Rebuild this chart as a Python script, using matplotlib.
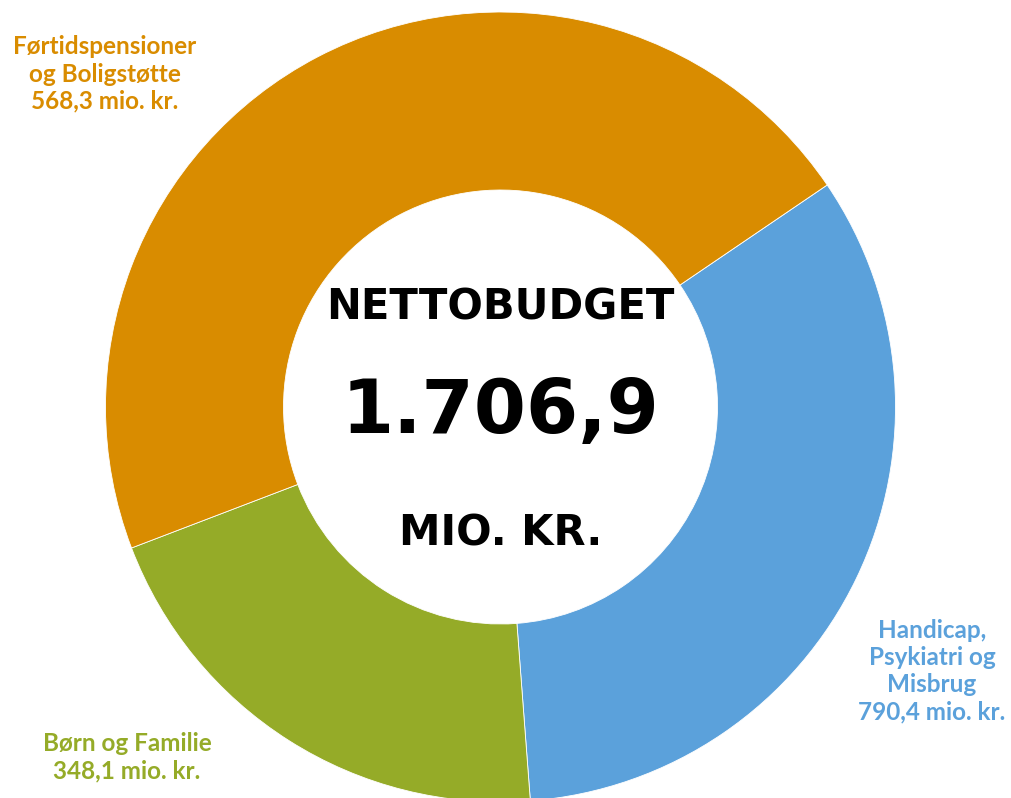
import matplotlib
matplotlib.use("Agg")
import matplotlib.pyplot as plt

# wedge sizes as drawn (clockwise from the upper right)
segments = ["Handicap", "Børn og Familie", "Førtidspensioner"]
values = [568.3, 348.1, 790.4]
colors = ["#5BA1DB", "#95AB28", "#D98C00"]

# label texts as printed on the chart
label_texts = [
    "Handicap,\nPsykiatri og\nMisbrug\n790,4 mio. kr.",
    "Børn og Familie\n348,1 mio. kr.",
    "Førtidspensioner\nog Boligstøtte\n568,3 mio. kr.",
]
label_pos = [(932, 671), (127, 757), (105, 74)]

total_text = "1.706,9"

W, H = 1011, 798
fig = plt.figure(figsize=(W / 100, H / 100), dpi=100)
ax = fig.add_axes([0, 0, 1, 1])

cx, cy = 500.5, 407
r_out, r_in = 395, 217
ax.pie(values, colors=colors, startangle=34.2, counterclock=False,
       center=(cx, H - cy), radius=r_out,
       wedgeprops=dict(width=r_out - r_in, edgecolor="white", linewidth=0.6),
       frame=True)
ax.set_xlim(0, W)
ax.set_ylim(0, H)
ax.set_aspect("equal")
ax.axis("off")

for txt, (x, y), c in zip(label_texts, label_pos, colors):
    ax.text(x, H - y, txt, color=c, fontsize=17.5, fontweight="bold",
            family="Lato", ha="center", va="center", linespacing=1.22)

ax.text(cx, H - 307, "NETTOBUDGET", fontsize=30, fontweight="bold",
        family="DejaVu Sans", ha="center", va="center")
ax.text(cx, H - 412, total_text, fontsize=54, fontweight="bold",
        family="DejaVu Sans", ha="center", va="center")
ax.text(cx, H - 533, "MIO. KR.", fontsize=30, fontweight="bold",
        family="DejaVu Sans", ha="center", va="center")

fig.savefig("out.png", dpi=100)
